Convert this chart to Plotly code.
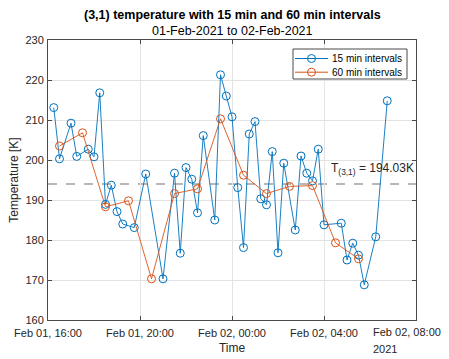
import plotly.graph_objects as go

# 15-minute samples of the (3,1) temperature sensor
t15 = ["2021-02-01 16:15", "2021-02-01 16:30", "2021-02-01 17:00", "2021-02-01 17:15",
       "2021-02-01 17:45", "2021-02-01 18:00", "2021-02-01 18:15", "2021-02-01 18:30",
       "2021-02-01 18:45", "2021-02-01 19:00", "2021-02-01 19:15", "2021-02-01 19:45",
       "2021-02-01 20:15", "2021-02-01 21:00", "2021-02-01 21:30", "2021-02-01 21:45",
       "2021-02-01 22:00", "2021-02-01 22:15", "2021-02-01 22:30", "2021-02-01 22:45",
       "2021-02-01 23:15", "2021-02-01 23:30", "2021-02-01 23:45", "2021-02-02 00:00",
       "2021-02-02 00:15", "2021-02-02 00:30", "2021-02-02 00:45", "2021-02-02 01:00",
       "2021-02-02 01:15", "2021-02-02 01:30", "2021-02-02 01:45", "2021-02-02 02:00",
       "2021-02-02 02:15", "2021-02-02 02:45", "2021-02-02 03:00", "2021-02-02 03:15",
       "2021-02-02 03:30", "2021-02-02 03:45", "2021-02-02 04:00", "2021-02-02 04:45",
       "2021-02-02 05:00", "2021-02-02 05:15", "2021-02-02 05:30", "2021-02-02 05:45",
       "2021-02-02 06:15", "2021-02-02 06:45"]
temp15 = [213.1, 200.3, 209.2, 200.9, 202.7, 200.8, 216.8, 188.9,
          193.7, 187.1, 184.0, 183.1, 196.5, 170.3, 196.7, 176.7,
          198.1, 195.2, 186.8, 206.1, 185.0, 221.3, 216.0, 210.8,
          193.1, 178.1, 206.5, 209.6, 190.3, 188.8, 202.1, 176.8,
          199.2, 182.5, 201.0, 196.7, 194.8, 202.7, 183.8, 184.2,
          175.0, 179.2, 176.2, 168.8, 180.8, 214.8]

# hourly samples
t60 = ["2021-02-01 16:30", "2021-02-01 17:30", "2021-02-01 18:30", "2021-02-01 19:30",
       "2021-02-01 20:30", "2021-02-01 21:30", "2021-02-01 22:30", "2021-02-01 23:30",
       "2021-02-02 00:30", "2021-02-02 01:30", "2021-02-02 02:30", "2021-02-02 03:30",
       "2021-02-02 04:30", "2021-02-02 05:30"]
temp60 = [203.5, 206.8, 188.3, 189.8, 170.3, 191.6, 192.8, 210.3,
          196.2, 191.6, 193.4, 193.6, 179.3, 175.3]

t_mean = 194.03

series_names = ["15 min intervals", "60 min intervals"]

x_ticks = ["2021-02-01 16:00", "2021-02-01 20:00", "2021-02-02 00:00",
           "2021-02-02 04:00", "2021-02-02 08:00"]
x_ticktext = ["Feb 01, 16:00", "Feb 01, 20:00", "Feb 02, 00:00",
              "Feb 02, 04:00", "Feb 02, 08:00"]
y_ticks = [160, 170, 180, 190, 200, 210, 220, 230]
year_label = "2021"

FONT = "Liberation Sans, Arial, sans-serif"
TXT = "#262626"
AX = "#4a4a4a"
GRID = "#e3e3e3"
COLORS = ["#0072BD", "#D95319"]

W, H = 449, 359
ML, MR, MT, MB = 48, 33, 40, 39
PW, PH = W - ML - MR, H - MT - MB


def px(x):
    """page pixel column -> paper x"""
    return (x - ML) / PW


def py(y):
    """page pixel row -> paper y"""
    return (H - MB - y) / PH


fig = go.Figure()
for name, xs, ys, col in zip(series_names, [t15, t60], [temp15, temp60], COLORS):
    fig.add_trace(go.Scatter(
        x=xs, y=ys, mode="lines+markers", name=name, showlegend=False,
        line=dict(color=col, width=0.9),
        marker=dict(symbol="circle-open", size=8, color=col, line=dict(width=1)),
    ))

# mean temperature reference line
fig.add_shape(type="line", xref="paper", x0=0, x1=1, yref="y", y0=t_mean, y1=t_mean,
              line=dict(color="#a0a0a0", width=1.5, dash="dash"), layer="below")
fig.add_annotation(xref="paper", x=px(329), yref="y", y=t_mean + 1.3,
                   xanchor="left", yanchor="bottom", showarrow=False,
                   text=f"T<sub>(3,1)</sub> = {t_mean:.2f}K",
                   font=dict(family=FONT, size=12, color=TXT))

# boxed legend in the upper right corner
fig.add_shape(type="rect", xref="paper", yref="paper",
              x0=px(293), x1=px(407), y0=py(79), y1=py(49),
              fillcolor="white", line=dict(color=AX, width=1), layer="above")
for i, (name, col) in enumerate(zip(series_names, COLORS)):
    yc = py(58.5 + 13.7 * i)
    fig.add_shape(type="line", xref="paper", yref="paper",
                  x0=px(295), x1=px(328), y0=yc, y1=yc,
                  line=dict(color=col, width=1), layer="above")
    fig.add_shape(type="circle", xref="paper", yref="paper",
                  xsizemode="pixel", ysizemode="pixel",
                  xanchor=px(311.5), yanchor=yc, x0=-4, x1=4, y0=-4, y1=4,
                  line=dict(color=col, width=1), fillcolor="rgba(0,0,0,0)", layer="above")
    fig.add_annotation(xref="paper", yref="paper", x=px(330), y=yc,
                       xanchor="left", yanchor="middle", showarrow=False,
                       text=name, font=dict(family=FONT, size=10, color="#000000"))

# title and subtitle
fig.add_annotation(xref="paper", x=0.5, yref="paper", y=1.0, yshift=25,
                   xanchor="center", yanchor="middle", showarrow=False,
                   text="<b>(3,1) temperature with 15 min and 60 min intervals</b>",
                   font=dict(family=FONT, size=12.5, color="#000000"))
fig.add_annotation(xref="paper", x=0.5, yref="paper", y=1.0, yshift=9,
                   xanchor="center", yanchor="middle", showarrow=False,
                   text="01-Feb-2021 to 02-Feb-2021",
                   font=dict(family=FONT, size=12.5, color="#000000"))

# last date tick (on the right border) is labelled left of its tick, year underneath
fig.add_annotation(xref="paper", x=px(371), yref="paper", y=0, yshift=-12,
                   xanchor="left", yanchor="middle", showarrow=False,
                   text=x_ticktext[-1], font=dict(family=FONT, size=11, color=TXT))
fig.add_annotation(xref="paper", x=px(371), yref="paper", y=0, yshift=-29,
                   xanchor="left", yanchor="middle", showarrow=False,
                   text=year_label, font=dict(family=FONT, size=11, color=TXT))

fig.update_layout(
    width=W, height=H,
    margin=dict(l=ML, r=MR, t=MT, b=MB, autoexpand=False),
    paper_bgcolor="white", plot_bgcolor="white",
    font=dict(family=FONT, size=11, color=TXT),
    showlegend=False,
    xaxis=dict(
        type="date",
        range=[x_ticks[0], x_ticks[-1]],
        tickvals=x_ticks[:-1], ticktext=x_ticktext[:-1],
        showgrid=True, gridcolor=GRID, gridwidth=1,
        showline=True, linecolor=AX, linewidth=1, mirror="ticks",
        ticks="inside", ticklen=4, tickcolor=AX,
        ticklabelstandoff=3,
        automargin=False,
        zeroline=False,
        title=dict(text="Time", font=dict(family=FONT, size=12, color=TXT), standoff=5),
    ),
    yaxis=dict(
        range=[160, 230],
        tickvals=y_ticks,
        showgrid=True, gridcolor=GRID, gridwidth=1,
        showline=True, linecolor=AX, linewidth=1, mirror="ticks",
        ticks="inside", ticklen=4, tickcolor=AX,
        ticklabelstandoff=1,
        automargin=False,
        zeroline=False,
        title=dict(text="Temperature [K]", font=dict(family=FONT, size=12, color=TXT), standoff=4),
    ),
)

fig.write_html("out.html")
